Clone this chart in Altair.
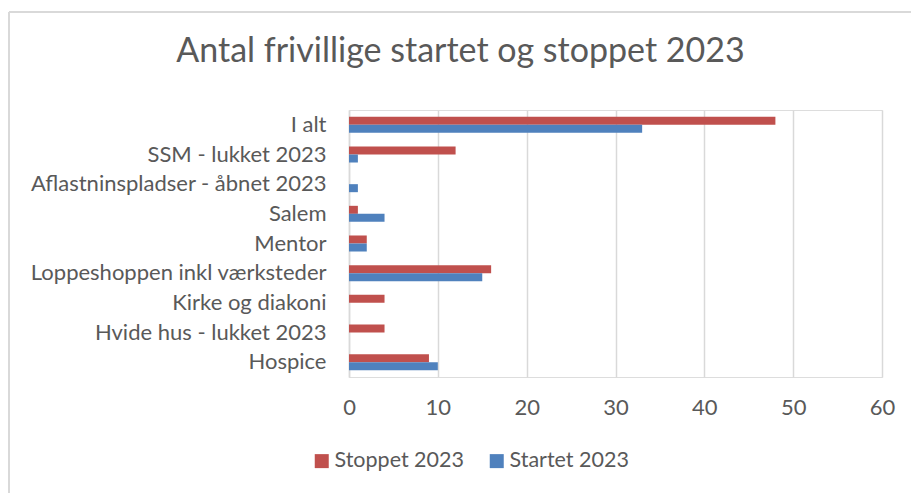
import altair as alt
import pandas as pd

categories = [
    "I alt",
    "SSM - lukket 2023",
    "Aflastninspladser - åbnet 2023",
    "Salem",
    "Mentor",
    "Loppeshoppen inkl værksteder",
    "Kirke og diakoni",
    "Hvide hus - lukket 2023",
    "Hospice",
]
stoppet = [48, 12, 0, 1, 2, 16, 4, 4, 9]
startet = [33, 1, 1, 4, 2, 15, 0, 0, 10]
series = ["Stoppet 2023", "Startet 2023"]
colors = ["#C0504D", "#4F81BD"]
x_ticks = [0, 10, 20, 30, 40, 50, 60]

rows = []
for c, s1, s2 in zip(categories, stoppet, startet):
    rows.append({"kategori": c, "serie": series[0], "antal": s1})
    rows.append({"kategori": c, "serie": series[1], "antal": s2})
df = pd.DataFrame(rows)

FONT = "Lato"
TXT = "#595959"

bars = alt.Chart(df).mark_bar().encode(
    y=alt.Y("kategori:N", sort=categories, title=None,
            scale=alt.Scale(paddingInner=0.46, paddingOuter=0.23),
            axis=alt.Axis(ticks=False, labelPadding=23, labelFontSize=22,
                          labelFont=FONT, labelColor=TXT, domainColor="#D9D9D9",
                          domainWidth=1.5, labelLimit=400)),
    x=alt.X("antal:Q", title=None,
            scale=alt.Scale(domain=[0, 60], nice=False),
            axis=alt.Axis(values=x_ticks, domain=False, ticks=False, grid=True,
                          gridColor="#D9D9D9", gridWidth=1.5, labelPadding=20,
                          labelFlush=False,
                          labelFontSize=22, labelFont=FONT, labelColor=TXT)),
    yOffset=alt.YOffset("serie:N", sort=series),
    color=alt.Color("serie:N", sort=series,
                    scale=alt.Scale(domain=series, range=colors),
                    legend=alt.Legend(title=None, orient="none", direction="horizontal",
                                      legendX=-38, legendY=340, symbolType="square",
                                      symbolSize=196, symbolStrokeWidth=0,
                                      labelFontSize=21.5, labelFont=FONT, labelColor=TXT,
                                      labelOffset=2, columnPadding=22, padding=0)),
)

border = alt.Chart(alt.Data(values=[{}])).mark_rule(color="#D9D9D9", strokeWidth=2).encode(
    x=alt.value(-340), y=alt.value(-98), y2=alt.value(400)
)
border_top = alt.Chart(alt.Data(values=[{}])).mark_rule(color="#D9D9D9", strokeWidth=2).encode(
    x=alt.value(-340), x2=alt.value(570), y=alt.value(-98)
)

chart = alt.layer(bars, border, border_top).properties(
    width=533,
    height=267,
    title=alt.TitleParams("Antal frivillige startet og stoppet 2023", anchor="middle",
                          dx=-155, dy=58, font=FONT, fontSize=34, fontWeight="normal",
                          color=TXT, offset=0),
    autosize=alt.AutoSizeParams(type="none"),
    padding={"left": 349, "top": 110, "right": 29, "bottom": 116},
).configure_view(stroke=None).configure(background="white")

chart.save("out.html", embed_options={"renderer": "svg", "actions": False})
